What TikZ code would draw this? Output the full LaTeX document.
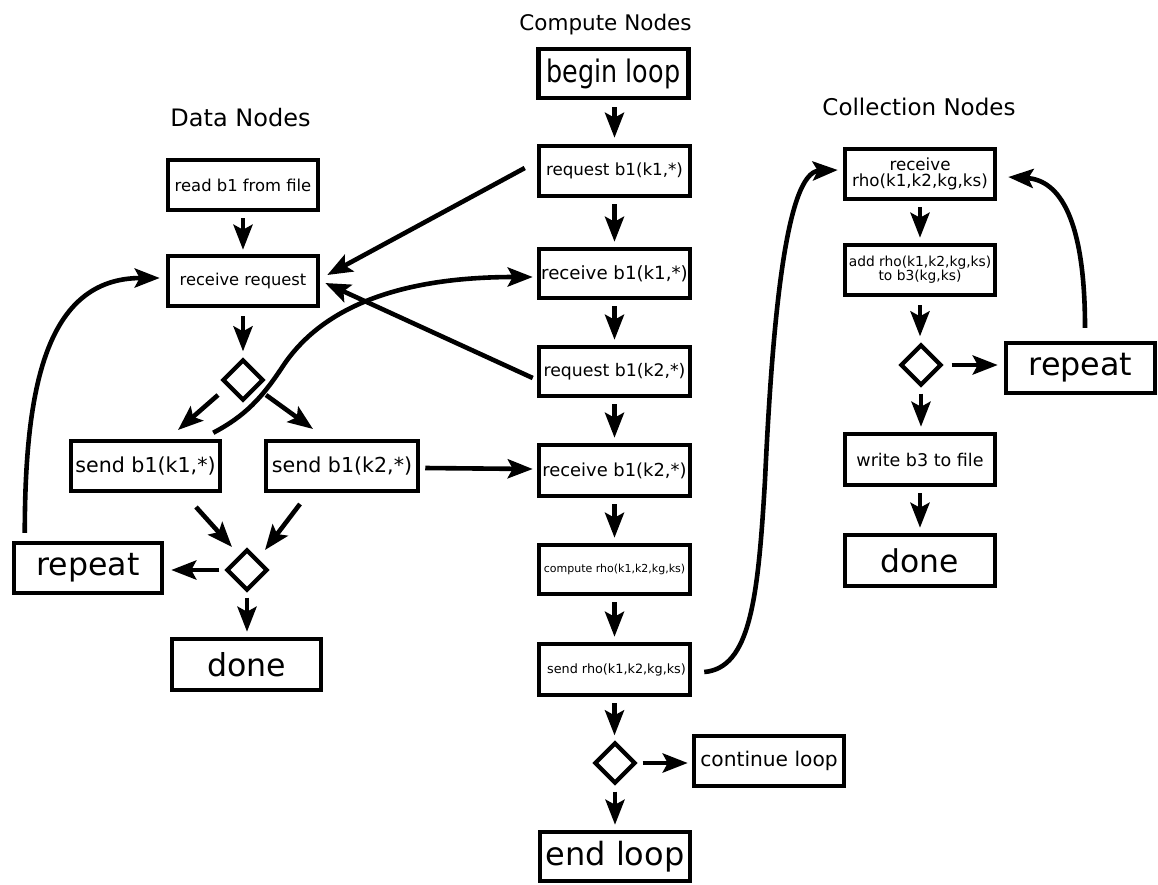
\documentclass[tikz,border=0pt]{standalone}
\usepackage{graphicx}
\usepackage{fontspec}
\setmainfont{DejaVu Sans}
\usetikzlibrary{shapes.geometric,arrows.meta}
\newcommand{\fs}[1]{\fontsize{#1}{#1}\selectfont}
\begin{document}
\begin{tikzpicture}[x=1pt,y=-1pt,
  box/.style={draw, line width=4.5pt, rectangle, inner sep=0pt, align=center,
              minimum width=150pt, minimum height=50pt},
  dec/.style={draw, line width=4.3pt, diamond, inner sep=0pt,
              minimum width=41pt, minimum height=41pt},
  arr/.style={line width=4.6pt, -{Stealth[length=25pt,width=19pt,inset=5pt]}},
  title/.style={anchor=base, inner sep=0pt}]

\useasboundingbox (0,0) rectangle (1158,884);

% column titles
\node[title, font=\fs{24}] (tData) at (240.5,126) {Data Nodes};
\node[title, font=\fs{21.5}] (tComp) at (605.5,30) {Compute Nodes};
\node[title, font=\fs{23}] (tColl) at (919,115) {Collection Nodes};

% data nodes
\node[box, font=\fs{16.4}] (read) at (243,185) {read b1 from file};
\node[box, font=\fs{16.3}] (recvreq) at (243,281) {receive request};
\node[dec] (d1) at (243,380) {};
\node[box, minimum width=149pt, font=\fs{20.6}] (sendk1) at (145.5,466) {send b1(k1,*)};
\node[box, minimum width=152pt, font=\fs{20.6}] (sendk2) at (342,466) {send b1(k2,*)};
\node[dec] (d2) at (247,570) {};
\node[box, minimum width=148pt, font=\fs{31.6}] (repeatD) at (88,568) {repeat};
\node[box, minimum width=149pt, minimum height=51pt, font=\fs{31.6}] (doneD) at (246.5,664.5) {done};

% compute nodes
\node[box, minimum width=150pt, minimum height=49pt, font=\fs{31}] (begin) at (613.5,73.5) {\scalebox{0.82}[1]{begin loop}};
\node[box, minimum width=151pt, font=\fs{16.7}] (reqk1) at (614.5,171) {request b1(k1,*)};
\node[box, minimum width=151pt, minimum height=49pt, font=\fs{18.2}] (recvk1) at (614.5,273.5) {receive b1(k1,*)};
\node[box, minimum width=151pt, minimum height=49pt, font=\fs{17.3}] (reqk2) at (614.5,371.5) {request b1(k2,*)};
\node[box, minimum width=151pt, minimum height=51pt, font=\fs{17.9}] (recvk2) at (614.5,470.5) {receive b1(k2,*)};
\node[box, minimum width=151pt, minimum height=49pt, font=\fs{11}] (compute) at (614.5,569.5) {compute rho(k1,k2,kg,ks)};
\node[box, minimum width=151pt, minimum height=51pt, font=\fs{12.8}] (sendrho) at (614.5,669.5) {\hspace*{4pt}send rho(k1,k2,kg,ks)};
\node[dec] (d3) at (615,763) {};
\node[box, font=\fs{20.2}] (cont) at (769,761) {continue loop};
\node[box, minimum width=150pt, minimum height=49pt, font=\fs{32}] (endloop) at (615,856.5) {end loop};

% collection nodes
\node[box, font=\fs{16.7}] (recvrho) at (920,174)
  {\fs{16.7}\baselineskip=22pt receive\\rho(k1,k2,kg,ks)};
\node[box, font=\fs{13.8}] (addrho) at (920,270)
  {\fs{13.8}\baselineskip=19pt add rho(k1,k2,kg,ks)\\to b3(kg,ks)};
\node[dec] (d4) at (921,365) {};
\node[box, minimum width=149pt, font=\fs{31.8}] (repeatC) at (1080.5,368) {repeat};
\node[box, minimum height=51pt, font=\fs{17.5}] (write) at (920,459.5) {write b3 to file};
\node[box, minimum height=51pt, font=\fs{31.4}] (doneC) at (920,560.5) {done};

% data flow
\draw[arr, shorten <=6pt, shorten >=4pt] (read.south) -- (read.south |- recvreq.north);
\draw[arr, shorten <=8pt, shorten >=6pt] (recvreq.south) -- (recvreq.south |- d1.north);
\draw[arr] ([shift={(-25,15)}]d1.center) -- ([shift={(32.5,-36)}]sendk1.center);
\draw[arr] ([shift={(23,15)}]d1.center) -- ([shift={(-29,-37)}]sendk2.center);
\draw[arr] ([shift={(50.5,41)}]sendk1.center) -- ([shift={(-15,-23)}]d2.center);
\draw[arr] ([shift={(-42,38)}]sendk2.center) -- ([shift={(18,-20)}]d2.center);
\draw[arr, shorten <=5pt, shorten >=7pt] (d2.west) -- (d2.west -| repeatD.east);
\draw[arr, shorten <=5pt, shorten >=5pt] (d2.south) -- (d2.south |- doneD.north);
\draw[arr] ([shift={(13,-8)}]repeatD.north west) .. controls (25,390) and (45,278) .. ([shift={(-6,-3)}]recvreq.west);

% requests and replies between data and compute nodes
\draw[arr] ([shift={(-12,-3)}]reqk1.west) -- ([shift={(7,-6)}]recvreq.east);
\draw[arr] ([shift={(-4,6.5)}]reqk2.west) -- ([shift={(5,2)}]recvreq.east);
\draw[arr] ([shift={(-9,-6)}]sendk1.north east) .. controls (245,416) and (262,398) .. (283,366)
  .. controls (315,318) and (380,277) .. ([shift={(-4,3.5)}]recvk1.west);
\draw[arr] ([shift={(5,2)}]sendk2.east) -- ([shift={(-4,-1.5)}]recvk2.west);

% compute flow
\draw[arr, shorten <=7pt, shorten >=6pt] (begin.south -| reqk1.north) -- (reqk1.north);
\draw[arr, shorten <=6pt, shorten >=5pt] (reqk1.south) -- (recvk1.north);
\draw[arr, shorten <=6pt, shorten >=5pt] (recvk1.south) -- (reqk2.north);
\draw[arr, shorten <=6pt, shorten >=5pt] (reqk2.south) -- (recvk2.north);
\draw[arr, shorten <=6pt, shorten >=5pt] (recvk2.south) -- (compute.north);
\draw[arr, shorten <=6pt, shorten >=5pt] (compute.south) -- (sendrho.north);
\draw[arr, shorten <=6pt, shorten >=5pt] (sendrho.south) -- (sendrho.south |- d3.north);
\draw[arr, shorten <=5pt, shorten >=4pt] (d3.east) -- (d3.east -| cont.west);
\draw[arr, shorten <=6pt, shorten >=5pt] (d3.south) -- (d3.south |- endloop.north);

% results to collection nodes
\draw[arr] ([shift={(12,2.5)}]sendrho.east) .. controls (750,668) and (758,600) .. (765,480)
  .. controls (772,330) and (785,172) .. ([shift={(-5,-4)}]recvrho.west);

% collection flow
\draw[arr, shorten <=6pt, shorten >=5pt] (recvrho.south) -- (addrho.north);
\draw[arr, shorten <=8pt, shorten >=6pt] (addrho.south) -- (addrho.south |- d4.north);
\draw[arr, shorten <=8pt, shorten >=6pt] (d4.east) -- (d4.east -| repeatC.west);
\draw[arr, shorten <=6pt, shorten >=5pt] (d4.south) -- (d4.south |- write.north);
\draw[arr, shorten <=6pt, shorten >=5pt] (write.south) -- (doneC.north);
\draw[arr] ([shift={(4.5,-13)}]repeatC.north) .. controls (1085,220) and (1060,180) .. ([shift={(11,3)}]recvrho.east);

\end{tikzpicture}
\end{document}
